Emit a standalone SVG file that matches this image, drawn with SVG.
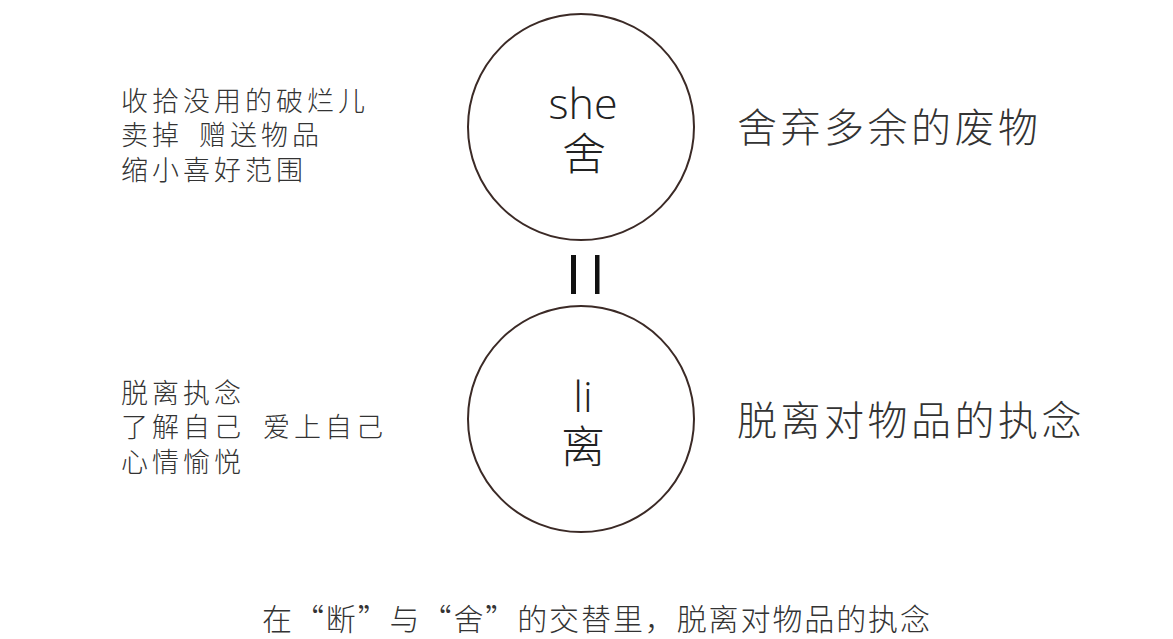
<svg xmlns="http://www.w3.org/2000/svg" width="1173" height="639" viewBox="0 0 1173 639">
<style>
.cjk{font-family:"Noto Sans CJK SC","Noto Sans",sans-serif;font-weight:300;fill:#333}
.lat{font-family:"Open Sans","Noto Sans",sans-serif;font-weight:300;fill:#222}
.ring{fill:none;stroke:#3b2a26;stroke-width:2}
.side{font-size:27px;letter-spacing:4px}
.big{font-size:40px;letter-spacing:3.5px}
</style>
<rect width="1173" height="639" fill="#fff"/>
<g id="node-she">
<circle class="ring" cx="581" cy="127" r="113"/>
<text class="lat" x="583" y="119" font-size="43" text-anchor="middle">she</text>
<text class="cjk" x="584" y="170" font-size="44" text-anchor="middle" style="fill:#222">舍</text>
</g>
<g id="node-li">
<circle class="ring" cx="581" cy="419" r="113"/>
<text class="lat" x="583" y="412" font-size="43" text-anchor="middle">li</text>
<text class="cjk" x="583" y="463" font-size="44" text-anchor="middle" style="fill:#222">离</text>
</g>
<g id="connectors">
<rect x="571" y="255" width="5" height="39" fill="#111"/>
<rect x="595" y="255" width="4.5" height="39" fill="#111"/>
</g>
<g id="left-top">
<text class="cjk side" x="121" y="111">收拾没用的破烂儿</text>
<text class="cjk side" x="121" y="145">卖掉</text>
<text class="cjk side" x="199" y="145">赠送物品</text>
<text class="cjk side" x="121" y="180">缩小喜好范围</text>
</g>
<g id="left-bottom">
<text class="cjk side" x="121" y="403">脱离执念</text>
<text class="cjk side" x="121" y="437">了解自己</text>
<text class="cjk side" x="263" y="437">爱上自己</text>
<text class="cjk side" x="121" y="472">心情愉悦</text>
</g>
<g id="right-top">
<text class="cjk big" x="737" y="142">舍弃多余的废物</text>
</g>
<g id="right-bottom">
<text class="cjk big" x="737" y="435">脱离对物品的执念</text>
</g>
<g id="caption">
<text class="cjk" x="262" y="630" font-size="30" letter-spacing="1.9">在“断”与“舍”的交替里，脱离对物品的执念</text>
</g>
</svg>
